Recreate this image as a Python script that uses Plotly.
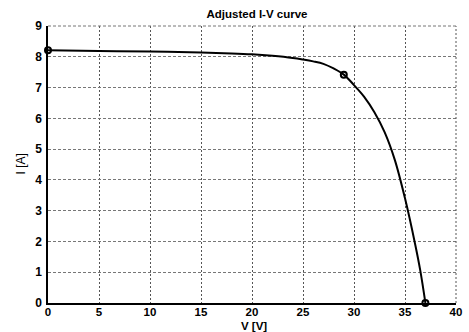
import plotly.graph_objects as go

V = [0, 5, 10, 15, 18, 20, 22, 24, 25, 26, 27, 28, 29, 30, 31, 32, 33, 34, 35, 36, 36.5, 37]
I = [8.21, 8.19, 8.17, 8.14, 8.11, 8.08, 8.03, 7.96, 7.91, 7.85, 7.77, 7.62, 7.42,
     7.08, 6.70, 6.20, 5.55, 4.65, 3.40, 1.90, 1.05, 0.0]

pts_V = [0, 29, 37]
pts_I = [8.21, 7.42, 0.0]

title = "Adjusted I-V curve"
xlabel = "V [V]"
ylabel = "I [A]"

font = "Liberation Sans, Arial, sans-serif"
bfont = dict(family=font, size=12, color="black", weight="bold")
xfont = dict(family=font, size=11.5, color="black", weight="bold")
lfont = dict(family=font, size=12, color="black")

fig = go.Figure()
fig.add_trace(go.Scatter(x=V, y=I, mode="lines", line=dict(color="black", width=2, shape="spline"),
                         showlegend=False, hoverinfo="skip"))
fig.add_trace(go.Scatter(x=pts_V, y=pts_I, mode="markers",
                         marker=dict(symbol="circle-open", size=6, color="black", line=dict(width=2)),
                         showlegend=False, cliponaxis=False))

fig.update_layout(
    width=469, height=332,
    margin=dict(l=48, r=7, t=26, b=29),
    paper_bgcolor="white", plot_bgcolor="white",
    font=dict(family=font, size=12, color="black"),
    title=dict(text="<b>" + title + "</b>", x=0.548, xanchor="center", y=0.957, yanchor="middle",
               font=dict(size=11.5)),
    shapes=[
        dict(type="line", xref="paper", yref="paper", x0=1, x1=1, y0=0, y1=1,
             line=dict(color="#555", width=1, dash="2px,2px")),
        dict(type="line", xref="paper", yref="paper", x0=0, x1=1, y0=1, y1=1,
             line=dict(color="#777", width=1, dash="3px,2px")),
    ],
    annotations=[
        dict(text="<b>" + xlabel + "</b>", xref="paper", yref="paper", x=0.505, y=0, yshift=-22.5,
             xanchor="center", yanchor="middle", showarrow=False, font=xfont),
        dict(text=ylabel, xref="paper", yref="paper", x=0, xshift=-28, y=0.5,
             xanchor="center", yanchor="middle", showarrow=False, textangle=-90, font=lfont),
    ],
)
fig.update_xaxes(range=[0, 40], dtick=5, tick0=0, showline=True, linecolor="black", linewidth=1.5,
                 showgrid=True, gridcolor="#555", griddash="2px,2px", gridwidth=1, zeroline=False,
                 ticks="", tickfont=xfont, ticklabelstandoff=-3)
fig.update_yaxes(range=[0, 9], dtick=1, tick0=0, showline=True, linecolor="black", linewidth=1.5,
                 showgrid=True, gridcolor="#777", griddash="3px,2px", gridwidth=1, zeroline=False,
                 ticks="", tickfont=bfont, ticklabelstandoff=2)

fig.write_html("out.html")
